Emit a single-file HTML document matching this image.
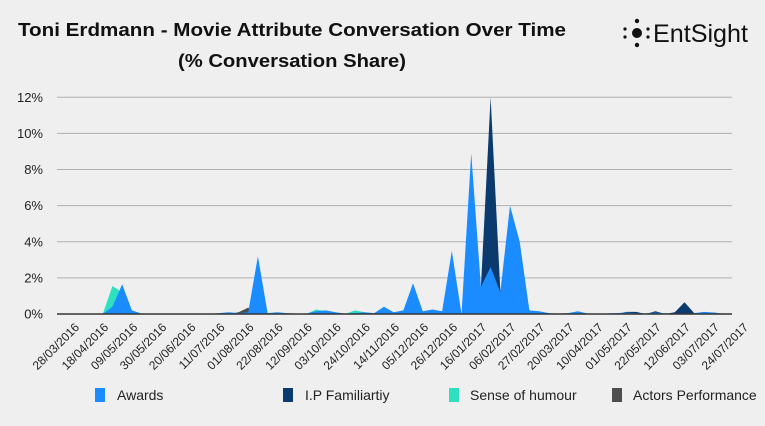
<!DOCTYPE html>
<html><head><meta charset="utf-8"><style>
body{margin:0;background:#efefef;}
svg{display:block;font-family:"Liberation Sans",sans-serif;}
</style></head><body>
<svg id="chart" width="765" height="426" viewBox="0 0 765 426">
<rect width="765" height="426" fill="#efefef"/>
<text x="292" y="36" text-anchor="middle" font-size="18" font-weight="bold" fill="#111" textLength="548" lengthAdjust="spacingAndGlyphs">Toni Erdmann - Movie Attribute Conversation Over Time</text>
<text x="292" y="67" text-anchor="middle" font-size="18" font-weight="bold" fill="#111" textLength="228" lengthAdjust="spacingAndGlyphs">(% Conversation Share)</text>
<g>
<circle cx="637" cy="33" r="5" fill="#111"/><circle cx="637" cy="21" r="2.2" fill="#111"/><circle cx="637" cy="45" r="2.2" fill="#111"/>
<circle cx="625" cy="29" r="1.6" fill="#111"/><circle cx="625" cy="37" r="1.6" fill="#111"/><circle cx="648" cy="29" r="1.6" fill="#111"/><circle cx="648" cy="37" r="1.6" fill="#111"/>
<text x="653" y="42" font-size="25" fill="#111" textLength="95" lengthAdjust="spacingAndGlyphs">EntSight</text>
</g>
<g id="grid"></g><g id="areas"></g><g id="xlabels"></g>
<g font-size="14" fill="#222">
<rect x="95" y="388" width="10" height="14" fill="#1a8cff"/>
<text x="117" y="400">Awards</text>
<rect x="283" y="388" width="10" height="14" fill="#0b3a6e"/>
<text x="305" y="400">I.P Familiartiy</text>
<rect x="449" y="388" width="10" height="14" fill="#2de0c0"/>
<text x="470" y="400">Sense of humour</text>
<rect x="612" y="388" width="10" height="14" fill="#4d4d4d"/>
<text x="633" y="400">Actors Performance</text>
</g>
</svg>
<script>
const xTickLabels=["28/03/2016","18/04/2016","09/05/2016","30/05/2016","20/06/2016","11/07/2016","01/08/2016","22/08/2016","12/09/2016","03/10/2016","24/10/2016","14/11/2016","05/12/2016","26/12/2016","16/01/2017","06/02/2017","27/02/2017","20/03/2017","10/04/2017","01/05/2017","22/05/2017","12/06/2017","03/07/2017","24/07/2017"];
const yTicks=[0,2,4,6,8,10,12];
const awards=[0,0,0,0,0,0.4,1.65,0.2,0.02,0,0,0,0,0,0,0,0.05,0.1,0.05,0.1,3.2,0.05,0.1,0.05,0.02,0.02,0.15,0.2,0.1,0.02,0.05,0.1,0.05,0.4,0.1,0.2,1.7,0.15,0.25,0.15,3.5,0,8.9,1.5,2.6,1.2,6.0,4.0,0.2,0.15,0.05,0.02,0.05,0.15,0.03,0.03,0.03,0.05,0.08,0.05,0.03,0.08,0.02,0,0,0.05,0.12,0.08,0.02,0];
const ipFamiliarity=[0,0,0,0,0,0,0,0,0,0,0,0,0,0,0,0,0,0,0,0,0,0,0,0,0,0,0,0,0,0,0,0,0,0,0,0,0,0,0,0,0,0,0,1.5,12,1.3,0,0,0,0,0,0,0,0,0,0,0,0,0.12,0.12,0,0.15,0,0.1,0.65,0.05,0,0.08,0,0];
const humour=[0,0,0,0,0,1.55,1.2,0,0,0,0,0,0,0,0,0,0,0,0,0,0,0,0,0,0,0,0.25,0.15,0,0,0.2,0.1,0,0,0,0,0,0,0,0,0,0,0,0,0,0,0,0,0,0,0,0,0,0,0,0,0,0,0,0,0,0,0.05,0,0,0,0,0,0,0];
const actors=[0,0,0,0,0,0,0,0,0,0,0,0,0,0,0,0,0,0,0.1,0.35,0,0,0,0,0,0,0,0,0,0,0,0,0,0,0,0,0,0,0,0,0,0,0,0,0,0,0,0,0,0,0,0,0,0,0,0,0,0,0,0,0.03,0,0,0,0,0,0,0,0,0];
const NS="http://www.w3.org/2000/svg";
const X0=64,X1=733,Y0=314,YTOP=97.3,YMAX=12;
const n=awards.length;
function xs(i){return X0+i*(X1-X0)/(n-1);}
function ys(v){return Y0-(v/YMAX)*(Y0-YTOP);}
function mk(t,a,p){const e=document.createElementNS(NS,t);for(const k in a)e.setAttribute(k,a[k]);p.appendChild(e);return e;}
const grid=document.getElementById('grid');
yTicks.forEach(v=>{
  const l=mk('line',{x1:57,x2:732,y1:ys(v),y2:ys(v),stroke:v===0?'#333':'#b0b0b0','stroke-width':1},grid);
  
  
  const t=mk('text',{x:43,y:ys(v)+4.5,'text-anchor':'end','font-size':13,fill:'#222'},grid);
  t.textContent=v+'%';
  
  
});
const areas=document.getElementById('areas');
function area(arr,color,name){
  let d='M'+xs(0)+','+Y0;
  arr.forEach((v,i)=>{d+=' L'+xs(i).toFixed(2)+','+ys(v).toFixed(2);});
  d+=' L'+xs(n-1)+','+Y0+' Z';
  const p=mk('path',{d:d,fill:color},areas);
  
  
}
area(ipFamiliarity,'#0b3a6e','area-ip-familiarity');
area(humour,'#2de0c0','area-sense-of-humour');
area(actors,'#4d4d4d','area-actors-performance');
area(awards,'#1a8cff','area-awards');
const base=mk('line',{x1:57,x2:732,y1:Y0,y2:Y0,stroke:'#333','stroke-width':1.5},areas);


const xl=document.getElementById('xlabels');
xTickLabels.forEach((s,k)=>{
  const x=xs(k*3)+16,y=328;
  const t=mk('text',{x:x,y:y,'text-anchor':'end','font-size':12,fill:'#222',transform:'rotate(-45 '+x+' '+y+')'},xl);
  t.textContent=s;
  
  
});
</script>
</body></html>
